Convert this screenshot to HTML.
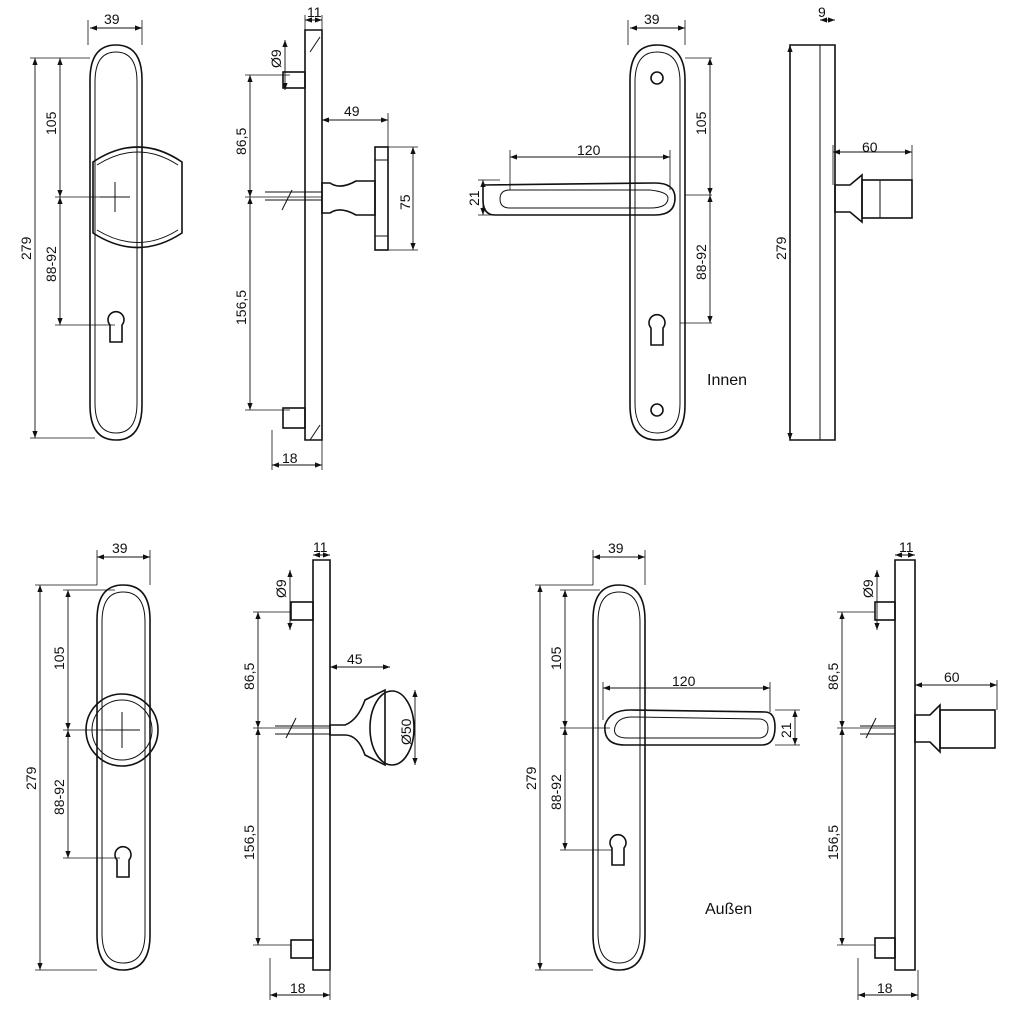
<!DOCTYPE html>
<html><head><meta charset="utf-8"><style>body{margin:0;background:#fff}svg{display:block}text{font-family:"Liberation Sans",sans-serif;font-size:14px;fill:#111}</style></head><body>
<svg width="1024" height="1024" viewBox="0 0 1024 1024" xmlns="http://www.w3.org/2000/svg">
<defs><marker id="a" markerWidth="8" markerHeight="6" refX="8" refY="3" orient="auto-start-reverse"><path d="M0,0L8,3L0,6z" fill="#111"/></marker></defs>
<g fill="none" stroke="#111" stroke-width="1.6">
<path d="M90,80Q90,45 116,45Q142,45 142,80L142,405Q142,440 116,440Q90,440 90,405Z"/>
<path d="M95,82Q95,52 116,52Q137,52 137,82L137,403Q137,433 116,433Q95,433 95,403Z" stroke-width="1"/>
<path d="M630,80Q630,45 657,45Q685,45 685,80L685,405Q685,440 657,440Q630,440 630,405Z"/>
<path d="M635,82Q635,52 657,52Q680,52 680,82L680,403Q680,433 657,433Q635,433 635,403Z" stroke-width="1"/>
<path d="M97,620Q97,585 123,585Q150,585 150,620L150,935Q150,970 123,970Q97,970 97,935Z"/>
<path d="M102,622Q102,592 123,592Q145,592 145,622L145,933Q145,963 123,963Q102,963 102,933Z" stroke-width="1"/>
<path d="M593,620Q593,585 619,585Q645,585 645,620L645,935Q645,970 619,970Q593,970 593,935Z"/>
<path d="M598,622Q598,592 619,592Q640,592 640,622L640,933Q640,963 619,963Q598,963 598,933Z" stroke-width="1"/>
<path d="M305,30L322,30L322,440L305,440Z"/><path d="M310,52L320,37M310,440L320,425" stroke-width="1"/>
<path d="M790,45L835,45L835,440L790,440Z"/><path d="M820,45L820,440" stroke-width="1"/>
<path d="M313,560L330,560L330,970L313,970Z"/>
<path d="M895,560L915,560L915,970L895,970Z"/>
<rect x="283" y="72" width="22" height="16"/><rect x="283" y="408" width="22" height="20"/>
<rect x="291" y="602" width="22" height="18"/><rect x="291" y="940" width="22" height="18"/>
<rect x="875" y="602" width="20" height="18"/><rect x="875" y="938" width="20" height="20"/>
<path d="M93,162Q138,132 182,162L182,233Q138,262 93,233Z"/>
<path d="M97,165Q138,139 178,165M97,230Q138,255 178,230" stroke-width="1"/>
<path d="M322,183L330,183Q340,190 356,181L375,181L375,215L356,215Q340,206 330,213L322,213Z"/>
<rect x="375" y="147" width="13" height="103"/><path d="M375,160L388,160M375,236L388,236" stroke-width="1"/>
<path d="M265,192L322,192M265,200L322,200" stroke-width="1"/>
<path d="M483,185L655,183Q675,183 675,198Q675,215 655,215L495,215Q483,215 483,200Z"/>
<path d="M510,190L650,190Q668,192 668,198Q668,208 650,208L510,208Q500,208 500,199Q500,190 510,190Z" stroke-width="1"/>
<circle cx="657" cy="78" r="6"/><circle cx="657" cy="410" r="6"/>
<path d="M835,185L850,185L862,175L862,222L850,212L835,212Z"/><rect x="862" y="180" width="50" height="38"/><path d="M880,180L880,218" stroke-width="1"/>
<circle cx="122" cy="730" r="36"/><circle cx="122" cy="730" r="30" stroke-width="1"/>
<path d="M330,725L345,725Q358,720 365,700L385,690L385,765L365,755Q358,735 345,735L330,735Z"/>
<ellipse cx="392" cy="728" rx="22" ry="37"/>
<path d="M275,726L330,726M275,734L330,734" stroke-width="1"/>
<path d="M605,725Q610,710 630,710L765,712Q775,712 775,727Q775,745 762,745L625,745Q603,745 605,725Z"/>
<path d="M615,727Q618,717 632,717L760,719Q768,720 768,728Q768,738 758,738L628,738Q612,738 615,727Z" stroke-width="1"/>
<path d="M915,715L930,715L940,705L940,752L930,742L915,742Z"/><rect x="940" y="710" width="55" height="38"/>
<path d="M860,726L895,726M860,734L895,734" stroke-width="1"/>
<path d="M110,325a8,8 0 1 1 12,0l0,17-12,0z"/><path d="M651,328a8,8 0 1 1 12,0l0,17-12,0z"/>
<path d="M117,860a8,8 0 1 1 12,0l0,17-12,0z"/><path d="M612,848a8,8 0 1 1 12,0l0,17-12,0z"/>
<path d="M100,197L130,197M115,182L115,212M105,730L140,730M122,712L122,748" stroke-width="1"/>
<path d="M282,210L292,190M286,738L296,718M866,738L876,718" stroke-width="1"/>
</g>
<g fill="none" stroke="#111" stroke-width="0.9" marker-start="url(#a)" marker-end="url(#a)">
<path d="M90,28L142,28"/><path d="M35,58L35,438"/><path d="M60,58L60,197"/><path d="M60,197L60,325"/>
<path d="M285,40L285,90"/><path d="M250,75L250,197"/><path d="M250,197L250,410"/><path d="M272,465L322,465"/>
<path d="M305,20L322,20"/><path d="M322,120L388,120"/><path d="M413,147L413,250"/>
<path d="M630,28L685,28"/><path d="M510,157L670,157"/><path d="M483,180L483,215"/><path d="M710,58L710,195"/><path d="M710,195L710,323"/>
<path d="M820,20L835,20"/><path d="M833,152L912,152"/><path d="M790,45L790,440"/>
<path d="M97,557L150,557"/><path d="M40,585L40,970"/><path d="M68,590L68,730"/><path d="M68,730L68,858"/>
<path d="M313,555L330,555"/><path d="M290,570L290,630"/><path d="M258,612L258,728"/><path d="M258,728L258,945"/><path d="M270,995L330,995"/><path d="M330,667L390,667"/><path d="M415,690L415,765"/>
<path d="M593,557L645,557"/><path d="M540,585L540,970"/><path d="M565,590L565,728"/><path d="M565,728L565,850"/><path d="M603,688L770,688"/><path d="M795,710L795,745"/>
<path d="M895,555L915,555"/><path d="M877,570L877,630"/><path d="M842,612L842,728"/><path d="M842,728L842,945"/><path d="M858,995L918,995"/><path d="M915,685L997,685"/>
</g>
<g stroke="#111" stroke-width="0.8" fill="none">
<path d="M88,20L88,45M142,20L142,45M30,58L90,58M30,438L95,438M55,197L115,197M55,325L115,325M628,20L628,45M685,20L685,45M685,58L712,58M685,195L712,195M680,323L712,323M510,150L510,190M670,150L670,190M478,180L500,180M478,215L500,215"/>
<path d="M245,75L290,75M245,197L322,197M245,410L290,410M272,430L272,470M322,440L322,470M305,15L305,30M322,15L322,30M388,113L388,147M322,113L322,185M388,147L418,147M388,250L418,250"/>
<path d="M35,585L97,585M35,970L97,970M63,590L115,590M63,730L122,730M63,858L120,858M97,550L97,585M150,550L150,585M535,585L593,585M535,970L593,970M560,590L600,590M560,728L610,728M560,850L612,850M593,550L593,585M645,550L645,585M603,682L603,720M770,682L770,712M775,710L800,710M775,745L800,745"/>
<path d="M253,612L291,612M253,728L330,728M253,945L291,945M270,958L270,1000M330,970L330,1000M837,612L875,612M837,728L895,728M837,945L875,945M858,958L858,1000M918,970L918,1000M833,145L833,185M912,145L912,180M915,680L915,715M997,680L997,710"/>
</g>
<g>
<text x="104" y="24">39</text><text x="644" y="24">39</text><text x="112" y="553">39</text><text x="608" y="553">39</text>
<text x="307" y="17">11</text><text x="818" y="17">9</text><text x="313" y="552">11</text><text x="899" y="552">11</text>
<text x="344" y="116">49</text><text x="862" y="152">60</text><text x="347" y="664">45</text><text x="944" y="682">60</text>
<text x="577" y="155">120</text><text x="672" y="686">120</text>
<text x="282" y="463">18</text><text x="290" y="993">18</text><text x="877" y="993">18</text>
<text x="707" y="385" style="font-size:16px">Innen</text><text x="705" y="914" style="font-size:16px">Außen</text>
<text transform="translate(31,260)rotate(-90)">279</text><text transform="translate(56,135)rotate(-90)">105</text><text transform="translate(56,282)rotate(-90)">88-92</text>
<text transform="translate(281,68)rotate(-90)">Ø9</text><text transform="translate(246,155)rotate(-90)">86,5</text><text transform="translate(246,325)rotate(-90)">156,5</text><text transform="translate(410,210)rotate(-90)">75</text>
<text transform="translate(479,206)rotate(-90)">21</text><text transform="translate(706,135)rotate(-90)">105</text><text transform="translate(706,280)rotate(-90)">88-92</text><text transform="translate(786,260)rotate(-90)">279</text>
<text transform="translate(36,790)rotate(-90)">279</text><text transform="translate(64,670)rotate(-90)">105</text><text transform="translate(64,815)rotate(-90)">88-92</text>
<text transform="translate(286,598)rotate(-90)">Ø9</text><text transform="translate(254,690)rotate(-90)">86,5</text><text transform="translate(254,860)rotate(-90)">156,5</text><text transform="translate(411,745)rotate(-90)">Ø50</text>
<text transform="translate(536,790)rotate(-90)">279</text><text transform="translate(561,670)rotate(-90)">105</text><text transform="translate(561,810)rotate(-90)">88-92</text><text transform="translate(791,738)rotate(-90)">21</text>
<text transform="translate(873,598)rotate(-90)">Ø9</text><text transform="translate(838,690)rotate(-90)">86,5</text><text transform="translate(838,860)rotate(-90)">156,5</text>
</g>
</svg>
</body></html>
